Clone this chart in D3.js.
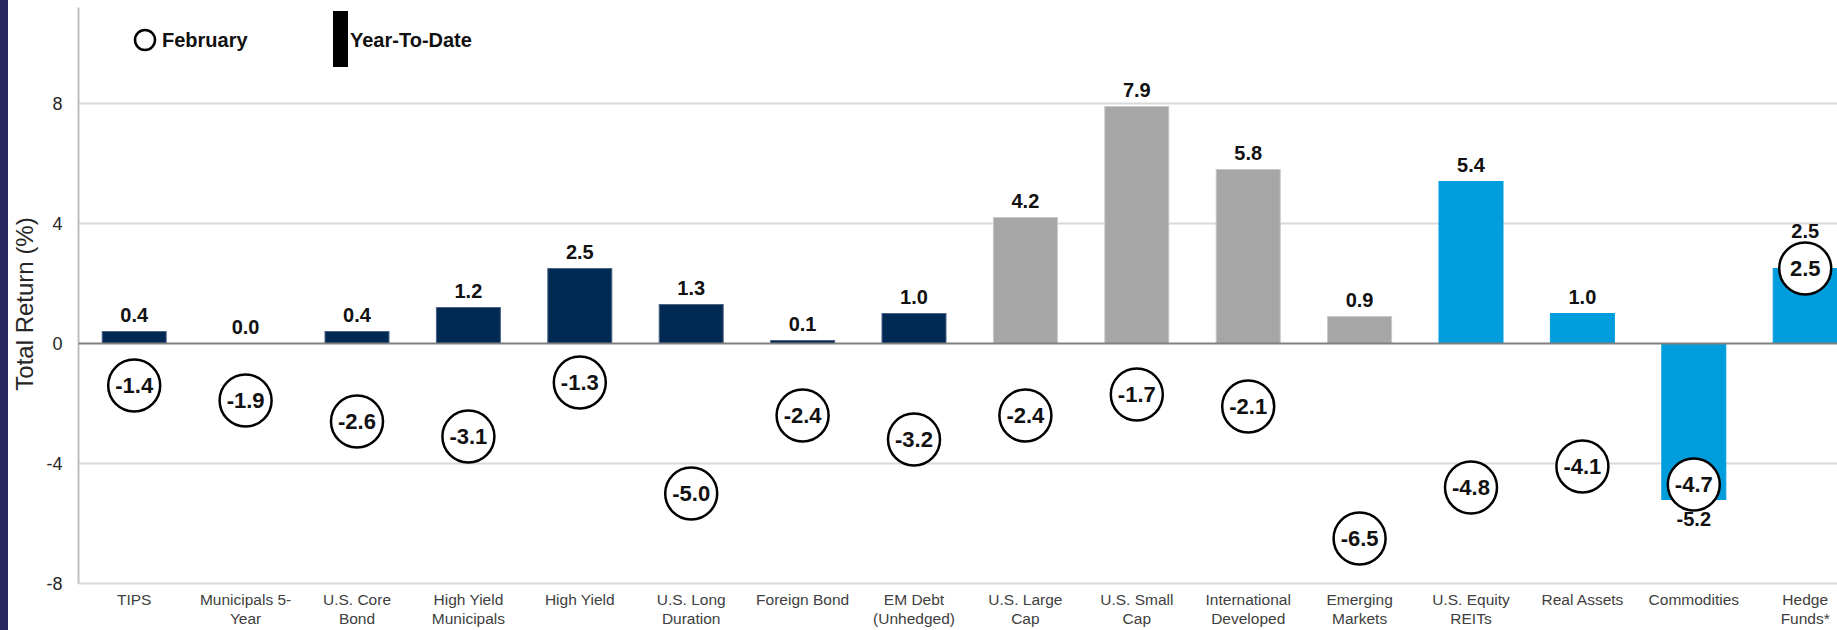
<!DOCTYPE html>
<html>
<head>
<meta charset="utf-8">
<script src="https://cdn.jsdelivr.net/npm/d3@7"></script>
<style>
  html, body { margin: 0; padding: 0; background: #fff; }
  svg { display: block; font-family: Arial, "Liberation Sans", sans-serif; }
</style>
</head>
<body>
<div id="container"></div>
<script>
// chart data
const categories = [
    "TIPS", "Municipals 5-\nYear", "U.S. Core\nBond", "High Yield\nMunicipals",
    "High Yield", "U.S. Long\nDuration", "Foreign Bond", "EM Debt\n(Unhedged)",
    "U.S. Large\nCap", "U.S. Small\nCap", "International\nDeveloped", "Emerging\nMarkets",
    "U.S. Equity\nREITs", "Real Assets", "Commodities", "Hedge\nFunds*"
];
const ytdValues = [0.4, 0.0, 0.4, 1.2, 2.5, 1.3, 0.1, 1.0, 4.2, 7.9, 5.8, 0.9, 5.4, 1.0, -5.2, 2.5];
const febValues = [-1.4, -1.9, -2.6, -3.1, -1.3, -5.0, -2.4, -3.2, -2.4, -1.7, -2.1, -6.5, -4.8, -4.1, -4.7, 2.5];
const groups = ["fi", "fi", "fi", "fi", "fi", "fi", "fi", "fi", "eq", "eq", "eq", "eq", "alt", "alt", "alt", "alt"];
const yTicks = [-8, -4, 0, 4, 8];
const legendLabels = ["February", "Year-To-Date"];

const GROUP_COLORS = { fi: "#002a54", eq: "#a6a6a6", alt: "#009ddc" };
const GROUP_STROKES = { fi: "#4d6585", eq: "#c8c8c8", alt: "#009ddc" };

const WIDTH = 1837;
const HEIGHT = 630;
const STEP = 111.4; // width of one category
const PLOT_LEFT = 78.5;
const BAR_W = 64;
const CIRCLE_R = 26;

// plain hyphen for negatives, like the source
const fmt = (v) => d3.format(".1f")(v).replace("\u2212", "-");

const svg = d3.select("#container")
    .append("svg")
    .attr("width", WIDTH)
    .attr("height", HEIGHT);

// left dark border
svg.append("rect")
    .attr("x", 0).attr("y", 0)
    .attr("width", 8).attr("height", HEIGHT)
    .attr("fill", "#29255f");

const x = d3.scaleBand()
    .domain(d3.range(categories.length))
    .range([PLOT_LEFT, PLOT_LEFT + STEP * categories.length])
    .padding(0);

const y = d3.scaleLinear()
    .domain([-8, 11.2])
    .range([583.5, 7.5]);

const cx = (i) => x(i) + x.bandwidth() / 2;

// gridlines
svg.append("g")
    .selectAll("line")
    .data(yTicks.filter((t) => t !== 0))
    .join("line")
    .attr("x1", PLOT_LEFT)
    .attr("x2", WIDTH)
    .attr("y1", (d) => y(d))
    .attr("y2", (d) => y(d))
    .attr("stroke", "#d9d9d9")
    .attr("stroke-width", 2);

// left axis line
svg.append("line")
    .attr("x1", PLOT_LEFT).attr("x2", PLOT_LEFT)
    .attr("y1", y(11.2)).attr("y2", y(-8))
    .attr("stroke", "#bfbfbf")
    .attr("stroke-width", 2);

// y tick labels
const yAxis = d3.axisLeft(y).tickValues(yTicks).tickSize(0).tickPadding(16).tickFormat((d) => String(d));
const yAxisG = svg.append("g")
    .attr("transform", `translate(${PLOT_LEFT},0)`)
    .call(yAxis);
yAxisG.select(".domain").remove();
yAxisG.selectAll("text")
    .attr("font-size", 18)
    .attr("font-family", "Arial, 'Liberation Sans', sans-serif")
    .attr("fill", "#262626");

// y title
svg.append("text")
    .attr("transform", `translate(33,304) rotate(-90)`)
    .attr("text-anchor", "middle")
    .attr("font-size", 24)
    .attr("fill", "#262626")
    .text("Total Return (%)");

// bars (YTD)
svg.append("g")
    .selectAll("rect")
    .data(ytdValues)
    .join("rect")
    .attr("x", (d, i) => cx(i) - BAR_W / 2)
    .attr("width", BAR_W)
    .attr("y", (d) => y(Math.max(0, d)))
    .attr("height", (d) => Math.abs(y(d) - y(0)))
    .attr("fill", (d, i) => GROUP_COLORS[groups[i]])
    .attr("stroke", (d, i) => GROUP_STROKES[groups[i]])
    .attr("stroke-width", 1);

// zero line
svg.append("line")
    .attr("x1", PLOT_LEFT).attr("x2", WIDTH)
    .attr("y1", y(0)).attr("y2", y(0))
    .attr("stroke", "#808080")
    .attr("stroke-width", 2);

// bar value labels
svg.append("g")
    .selectAll("text")
    .data(ytdValues)
    .join("text")
    .attr("x", (d, i) => cx(i))
    .attr("y", (d, i) => {
        if (d < 0) return y(d) + 26;
        // label goes above the circle when the circle sits on the bar top
        if (febValues[i] > 0 && Math.abs(febValues[i] - d) < 1) {
            return y(febValues[i]) - CIRCLE_R - 5;
        }
        return y(d) - 10;
    })
    .attr("text-anchor", "middle")
    .attr("font-size", 20)
    .attr("font-weight", "bold")
    .attr("fill", "#111")
    .text((d) => fmt(d));

// February circles
const circ = svg.append("g")
    .selectAll("g")
    .data(febValues)
    .join("g")
    .attr("transform", (d, i) => `translate(${cx(i)},${y(d)})`);

circ.append("circle")
    .attr("r", CIRCLE_R)
    .attr("fill", "#fff")
    .attr("stroke", "#000")
    .attr("stroke-width", 2.5);

circ.append("text")
    .attr("text-anchor", "middle")
    .attr("dy", "0.36em")
    .attr("font-size", 22)
    .attr("font-weight", "bold")
    .attr("fill", "#111")
    .text((d) => fmt(d));

// category labels
const catG = svg.append("g")
    .selectAll("text")
    .data(categories)
    .join("text")
    .attr("x", (d, i) => cx(i))
    .attr("y", 605)
    .attr("text-anchor", "middle")
    .attr("font-size", 15.5)
    .attr("fill", "#404040");
catG.each(function (d) {
    const lines = d.split("\n");
    d3.select(this)
        .selectAll("tspan")
        .data(lines)
        .join("tspan")
        .attr("x", d3.select(this).attr("x"))
        .attr("dy", (l, j) => (j === 0 ? 0 : 19))
        .text((l) => l);
});

// legend
const legend = svg.append("g");
legend.append("circle")
    .attr("cx", 145).attr("cy", 40).attr("r", 10)
    .attr("fill", "#fff")
    .attr("stroke", "#000")
    .attr("stroke-width", 2.5);
legend.append("text")
    .attr("x", 162).attr("y", 47)
    .attr("font-size", 20)
    .attr("font-weight", "bold")
    .attr("fill", "#111")
    .text(legendLabels[0]);
legend.append("rect")
    .attr("x", 333).attr("y", 11)
    .attr("width", 15).attr("height", 56)
    .attr("fill", "#000");
legend.append("text")
    .attr("x", 350).attr("y", 47)
    .attr("font-size", 20)
    .attr("font-weight", "bold")
    .attr("fill", "#111")
    .text(legendLabels[1]);
</script>
</body>
</html>
